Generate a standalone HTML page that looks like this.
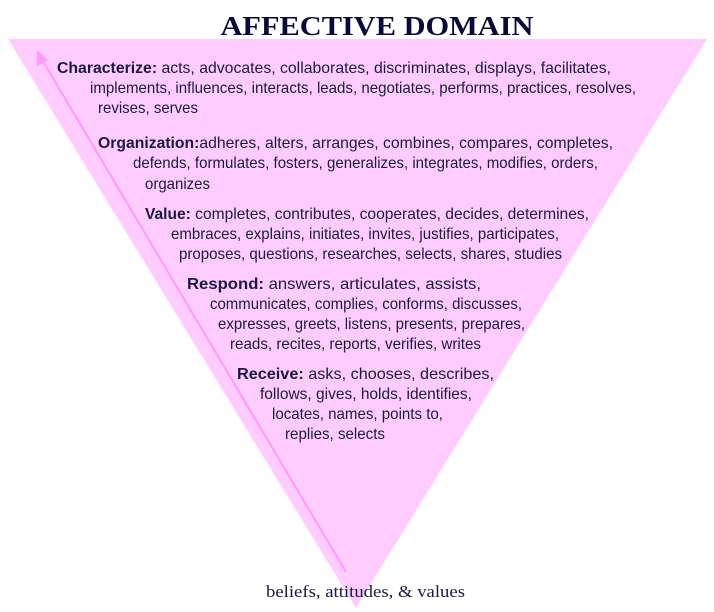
<!DOCTYPE html>
<html><head><meta charset="utf-8"><style>
html,body{margin:0;padding:0;background:#fff;}
svg{display:block;}
.t{font-family:"Liberation Sans",Arial,sans-serif;font-size:16px;fill:#1a1a40;}
.b{font-weight:bold;}
</style></head><body>
<svg width="714" height="612" viewBox="0 0 714 612" xmlns="http://www.w3.org/2000/svg">
<polygon points="8,39 707,39 356,608" fill="#ffccff"/>
<line x1="346" y1="572" x2="41" y2="58" stroke="#ff99ff" stroke-width="2"/>
<polygon points="37,50 37,66 48,60" fill="#ff99ff"/>
<text x="377" y="35" text-anchor="middle" textLength="313" lengthAdjust="spacingAndGlyphs" style="font-family:'Liberation Serif',serif;font-weight:bold;font-size:27px;fill:#0a0a3a">AFFECTIVE DOMAIN</text>
<g class="t">
<text x="57" y="73" textLength="554" lengthAdjust="spacingAndGlyphs"><tspan class="b">Characterize:</tspan> acts, advocates, collaborates, discriminates, displays, facilitates,</text>
<text x="90" y="93" textLength="546" lengthAdjust="spacingAndGlyphs">implements, influences, interacts, leads, negotiates, performs, practices, resolves,</text>
<text x="98" y="113" textLength="100" lengthAdjust="spacingAndGlyphs">revises, serves</text>
<text x="98" y="148" textLength="515" lengthAdjust="spacingAndGlyphs"><tspan class="b">Organization:</tspan>adheres, alters, arranges, combines, compares, completes,</text>
<text x="133" y="168" textLength="465" lengthAdjust="spacingAndGlyphs">defends, formulates, fosters, generalizes, integrates, modifies, orders,</text>
<text x="145" y="189" textLength="65" lengthAdjust="spacingAndGlyphs">organizes</text>
<text x="145" y="219" textLength="444" lengthAdjust="spacingAndGlyphs"><tspan class="b">Value:</tspan> completes, contributes, cooperates, decides,  determines,</text>
<text x="171" y="239" textLength="388" lengthAdjust="spacingAndGlyphs">embraces, explains, initiates, invites, justifies, participates,</text>
<text x="179" y="259" textLength="383" lengthAdjust="spacingAndGlyphs">proposes, questions, researches, selects, shares, studies</text>
<text x="187" y="289" textLength="294" lengthAdjust="spacingAndGlyphs"><tspan class="b">Respond:</tspan> answers, articulates, assists,</text>
<text x="210" y="309" textLength="312" lengthAdjust="spacingAndGlyphs">communicates, complies, conforms, discusses,</text>
<text x="218" y="329" textLength="307" lengthAdjust="spacingAndGlyphs">expresses, greets, listens, presents, prepares,</text>
<text x="230" y="349" textLength="251" lengthAdjust="spacingAndGlyphs">reads, recites, reports, verifies, writes</text>
<text x="237" y="379" textLength="257" lengthAdjust="spacingAndGlyphs"><tspan class="b">Receive:</tspan>  asks, chooses, describes,</text>
<text x="260" y="399" textLength="212" lengthAdjust="spacingAndGlyphs">follows, gives, holds, identifies,</text>
<text x="272" y="419" textLength="171" lengthAdjust="spacingAndGlyphs">locates, names, points to,</text>
<text x="285" y="439" textLength="100" lengthAdjust="spacingAndGlyphs">replies, selects</text>
</g>
<text x="266" y="597" textLength="199" lengthAdjust="spacingAndGlyphs" style="font-family:'Liberation Serif',serif;font-size:17px;fill:#1a1a40">beliefs, attitudes, &amp; values</text>
</svg>
</body></html>
